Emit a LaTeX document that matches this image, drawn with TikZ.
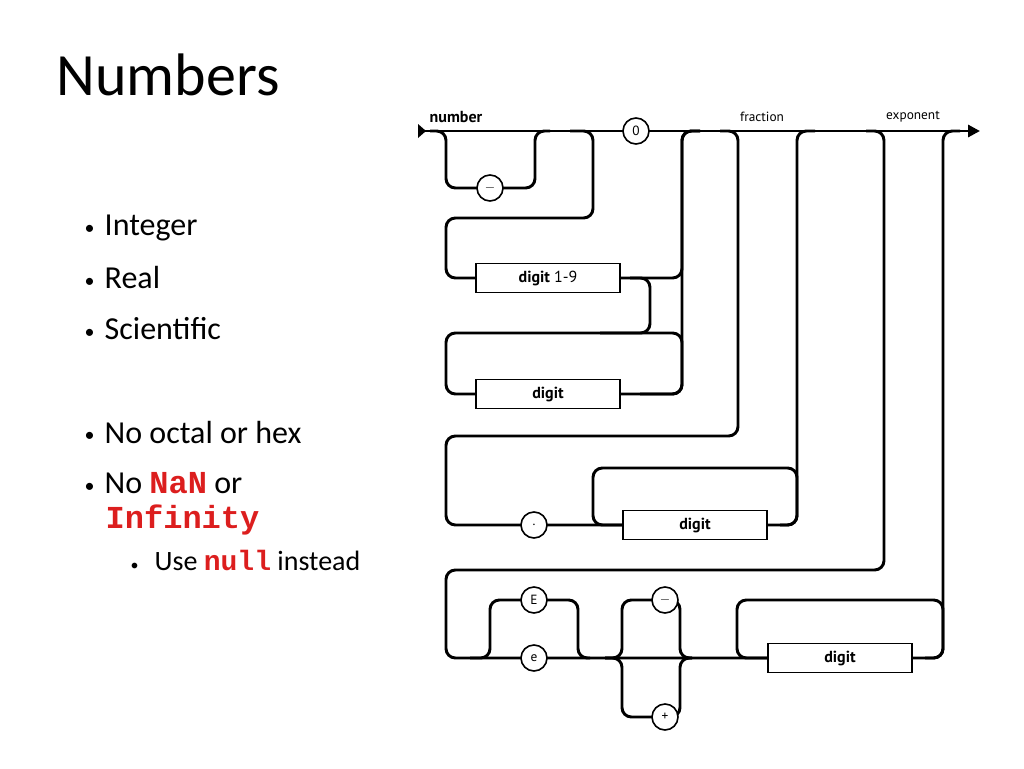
\documentclass[tikz,border=0pt]{standalone}
\usepackage{fontspec}
\setmainfont{Carlito}
\newfontfamily\railfont{PT Sans}
\newfontfamily\codefont{Liberation Mono}
\usetikzlibrary{arrows.meta}
\definecolor{codered}{RGB}{220,30,30}
\tikzset{
  rail/.style={line width=2.2pt, rounded corners=7pt},
  term/.style={circle, draw, line width=1.2pt, fill=white, minimum size=19.5pt, inner sep=0pt, font=\railfont},
  nonterm/.style={rectangle, draw, line width=1.2pt, fill=white, minimum width=108pt, minimum height=22pt, inner sep=0pt, font=\railfont\bfseries\large},
  bullet/.style={anchor=west, font=\fontsize{24}{28}\selectfont},
}
\newcommand{\cw}[1]{{\codefont\bfseries\color{codered}#1}}
\newcommand{\bul}{\makebox[15pt][l]{\raisebox{1pt}{\fontsize{15}{15}\selectfont•}}}
\begin{document}
\begin{tikzpicture}[x=0.75pt, y=-0.75pt]
	\useasboundingbox (0,0) rectangle (1024,768);
	
	% title and bullets
	\node[anchor=west, font=\fontsize{45}{50}\selectfont] (title) at (52,75) {Numbers};
	\node[bullet] (b1) at (80,228) {\bul Integer};
	\node[bullet] (b2) at (80,278) {\bul Real};
	\node[bullet] (b3) at (80,329) {\bul Scientific};
	\node[bullet] (b4) at (80,432) {\bul No octal or hex};
	\node[bullet] (b5) at (80,483) {\bul No \cw{NaN} or};
	\node[bullet] (b6) at (101,520) {\cw{Infinity}};
	\node[anchor=west, font=\fontsize{21}{24}\selectfont] (b7) at (126,560) {\makebox[18pt][l]{\fontsize{12}{12}\selectfont•}Use \cw{null} instead};
	
	% labels
	\node[font=\railfont\bfseries\large] (lnum) at (456,117) {number};
	\node[font=\railfont] (lfrac) at (762,117) {fraction};
	\node[font=\railfont] (lexp) at (913,117) {exponent};
	
	% main line
	\draw[rail, -{Triangle[length=9pt,width=9pt]}] (418,131) -- (980,131);
	\fill (418,124) -- (426,131) -- (418,138) -- cycle;
	
	% sign
	\draw[rail] (430,131) -| (446,188) -| (535,131) -- (550,131);
	% integer part
	\draw[rail] (570,131) -| (593,218) -| (446,278) -- (476,278);
	\draw[rail] (621,278) -| (682,131) -- (700,131);
	\draw[rail] (630,278) -| (650,333) -| (446,394) -- (476,394);
	\draw[rail] (621,394) -| (682,131) -- (700,131);
	\draw[rail] (640,394) -| (682,333) -- (600,333);
	% fraction
	\draw[rail] (720,131) -| (738,436) -| (446,525) -- (622,525);
	\draw[rail] (767,525) -| (797,131) -- (815,131);
	\draw[rail] (780,525) -| (797,468) -| (593,525) -- (622,525);
	% exponent
	\draw[rail] (866,131) -| (884,570) -| (446,658) -- (768,658);
	\draw[rail] (470,658) -| (490,600) -- (534,600) -| (578,658) -- (590,658);
	\draw[rail] (605,658) -| (622,600) -- (665,600) -| (680,658) -- (692,658);
	\draw[rail] (605,658) -| (622,717) -- (665,717) -| (680,658) -- (692,658);
	\draw[rail] (913,658) -| (943,131) -- (960,131);
	\draw[rail] (925,658) -| (943,600) -| (737,658) -- (768,658);
	
	% terminals and boxes
	\node[term] (zero) at (636,131) {0};
	\node[term] (minus) at (490,188) {$-$};
	\node[nonterm] (d19) at (548,278) {digit \mdseries 1-9};
	\node[nonterm] (d1) at (548,394) {digit};
	\node[term] (dot) at (534,525) {.};
	\node[nonterm] (d2) at (695,525) {digit};
	\node[term] (bigE) at (534,600) {E};
	\node[term] (smallE) at (534,658) {e};
	\node[term] (eminus) at (665,600) {$-$};
	\node[term] (eplus) at (665,717) {+};
	\node[nonterm] (d3) at (840,658) {digit};
\end{tikzpicture}
\end{document}
